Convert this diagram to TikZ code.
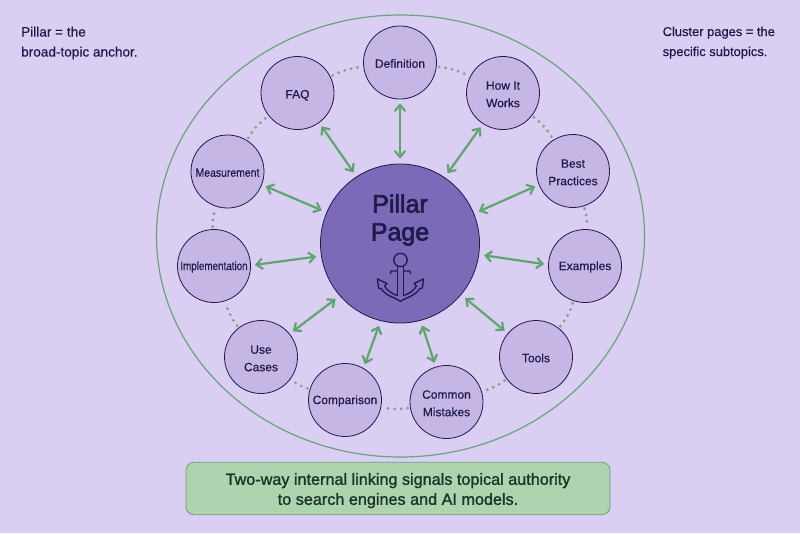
\documentclass[tikz,border=0pt]{standalone}
\usepackage{fontspec}
\setmainfont{Liberation Sans}[FakeBold=0.5]
\newfontfamily\medfont[FakeBold=1.2]{Liberation Sans}
\newfontfamily\titlefont[FakeBold=2.5]{Liberation Sans}
\newfontfamily\narrowa[FakeStretch=0.82,FakeBold=0.5]{Liberation Sans}
\newfontfamily\narrowb[FakeStretch=0.87,FakeBold=0.5]{Liberation Sans}
\usetikzlibrary{arrows.meta}
\definecolor{bgc}{HTML}{DACEF3}
\definecolor{nodec}{HTML}{C6B6E6}
\definecolor{pilc}{HTML}{7C6AB8}
\definecolor{inkc}{HTML}{1E1B4B}
\definecolor{greenc}{HTML}{5FA56F}
\definecolor{ringc}{HTML}{6BA27C}
\definecolor{dotc}{HTML}{7FA58A}
\definecolor{banc}{HTML}{ADD4AE}
\definecolor{bantext}{HTML}{1B3326}
\tikzset{
 x=1pt,y=-1pt,
 sub/.style={circle,draw=inkc,line width=0.8pt,fill=nodec,inner sep=0pt,minimum size=73pt,align=center,text=inkc,font=\fontsize{12}{17.5}\selectfont,execute at begin node={\rule{0pt}{10.6pt}}},
 two/.style={execute at begin node={\rule{0pt}{28.5pt}}},
 pil/.style={circle,draw=inkc,line width=0.8pt,fill=pilc,inner sep=0pt,minimum size=159pt},
 link/.style={draw=greenc,line width=2.2pt,{Straight Barb[length=6pt,width=10.5pt,line width=2.2pt]}-{Straight Barb[length=6pt,width=10.5pt,line width=2.2pt]},shorten <=4pt,shorten >=5pt},
 dots/.style={draw=dotc,line width=3.2pt,line cap=round,dash pattern=on 0pt off 6.5pt,shorten <=2.5pt,shorten >=2pt},
 note/.style={align=left,anchor=north west,text=inkc,inner sep=0pt,font=\fontsize{13.2}{20}\selectfont},
}
\begin{document}
\begin{tikzpicture}
\useasboundingbox (0,0) rectangle (800,533);
\fill[bgc] (0,0) rectangle (800,533);
\draw[ringc,line width=1.2pt] (400.5,236) ellipse [x radius=244,y radius=221];
\node[sub] (def) at (400,62.5) {Definition};
\node[sub,two] (how) at (503,93) {How It\\Works};
\node[sub,two] (best) at (573,171) {Best\\Practices};
\node[sub] (ex) at (585,266) {Examples};
\node[sub] (tools) at (536,357) {Tools};
\node[sub,two] (com) at (446.5,402) {Common\\Mistakes};
\node[sub] (cmp) at (345,400) {Comparison};
\node[sub,two] (use) at (261,357) {Use\\Cases};
\node[sub,font=\narrowa\fontsize{12}{17.5}\selectfont] (imp) at (214,266) {Implementation};
\node[sub,font=\narrowb\fontsize{12}{17.5}\selectfont] (mea) at (227.5,171.5) {Measurement};
\node[sub,execute at begin node={\rule{0pt}{13pt}}] (faq) at (297.5,93) {FAQ};
\node[pil] (pillar) at (400,243.5) {};
\node[text=inkc,align=center,font=\titlefont\fontsize{25}{28}\selectfont] (ptitle) at (400,220) {Pillar\\Page};
\foreach \a/\b in {def/how,how/best,best/ex,ex/tools,tools/com,com/cmp,cmp/use,use/imp,imp/mea,mea/faq,faq/def}
  \draw[dots] (\a) to[bend left=10] (\b);
\foreach \a/\aa/\bb in {def/270/90,faq/-54/123,how/-123/56,mea/-21/157,best/202/22,imp/1.4/189,ex/178.6/-8.4,use/39/221,tools/140/-40,cmp/60/256,com/107/-75}
  \draw[link] (\a.\aa) -- (pillar.\bb);
% anchor icon
\begin{scope}[shift={(400.5,0)},draw=inkc,line width=1.3pt,line join=round]
\draw (0,260) circle (6.7);
\draw (-3,266.2) -- (-3,295.5) (3,266.2) -- (3,295.5);
\draw (-3,271) -- (-9.5,271) -- (-10,274) (3,271) -- (9.5,271) -- (10,274);
\draw (0,301.7) .. controls (-2,298.5) and (-14,297) .. (-19.5,288.5)
 -- (-22,288) -- (-23,279) -- (-13.5,283.5) -- (-16,286)
 .. controls (-13,291) and (-8,294) .. (-3,295.5)
 (3,295.5) .. controls (8,294) and (13,291) .. (16,286)
 -- (13.5,283.5) -- (23,279) -- (22,288) -- (19.5,288.5)
 .. controls (14,297) and (2,298.5) .. (0,301.7);
\end{scope}
\node[note,font=\fontsize{13.6}{20}\selectfont] (n1) at (21,26.5) {Pillar = the\\broad-topic anchor.};
\node[note,font=\fontsize{12.9}{20}\selectfont] (n2) at (662.5,26.5) {Cluster pages = the\\specific subtopics.};
\node[draw=ringc,line width=0.8pt,fill=banc,rounded corners=8pt,minimum width=424pt,minimum height=52.5pt,inner sep=0pt,align=center,text=bantext,font=\medfont\fontsize{16.2}{20}\selectfont,execute at begin node={\rule{0pt}{36pt}}] (ban) at (398,488.5) {Two-way internal linking signals topical authority\\to search engines and AI models.};
\end{tikzpicture}
\end{document}
